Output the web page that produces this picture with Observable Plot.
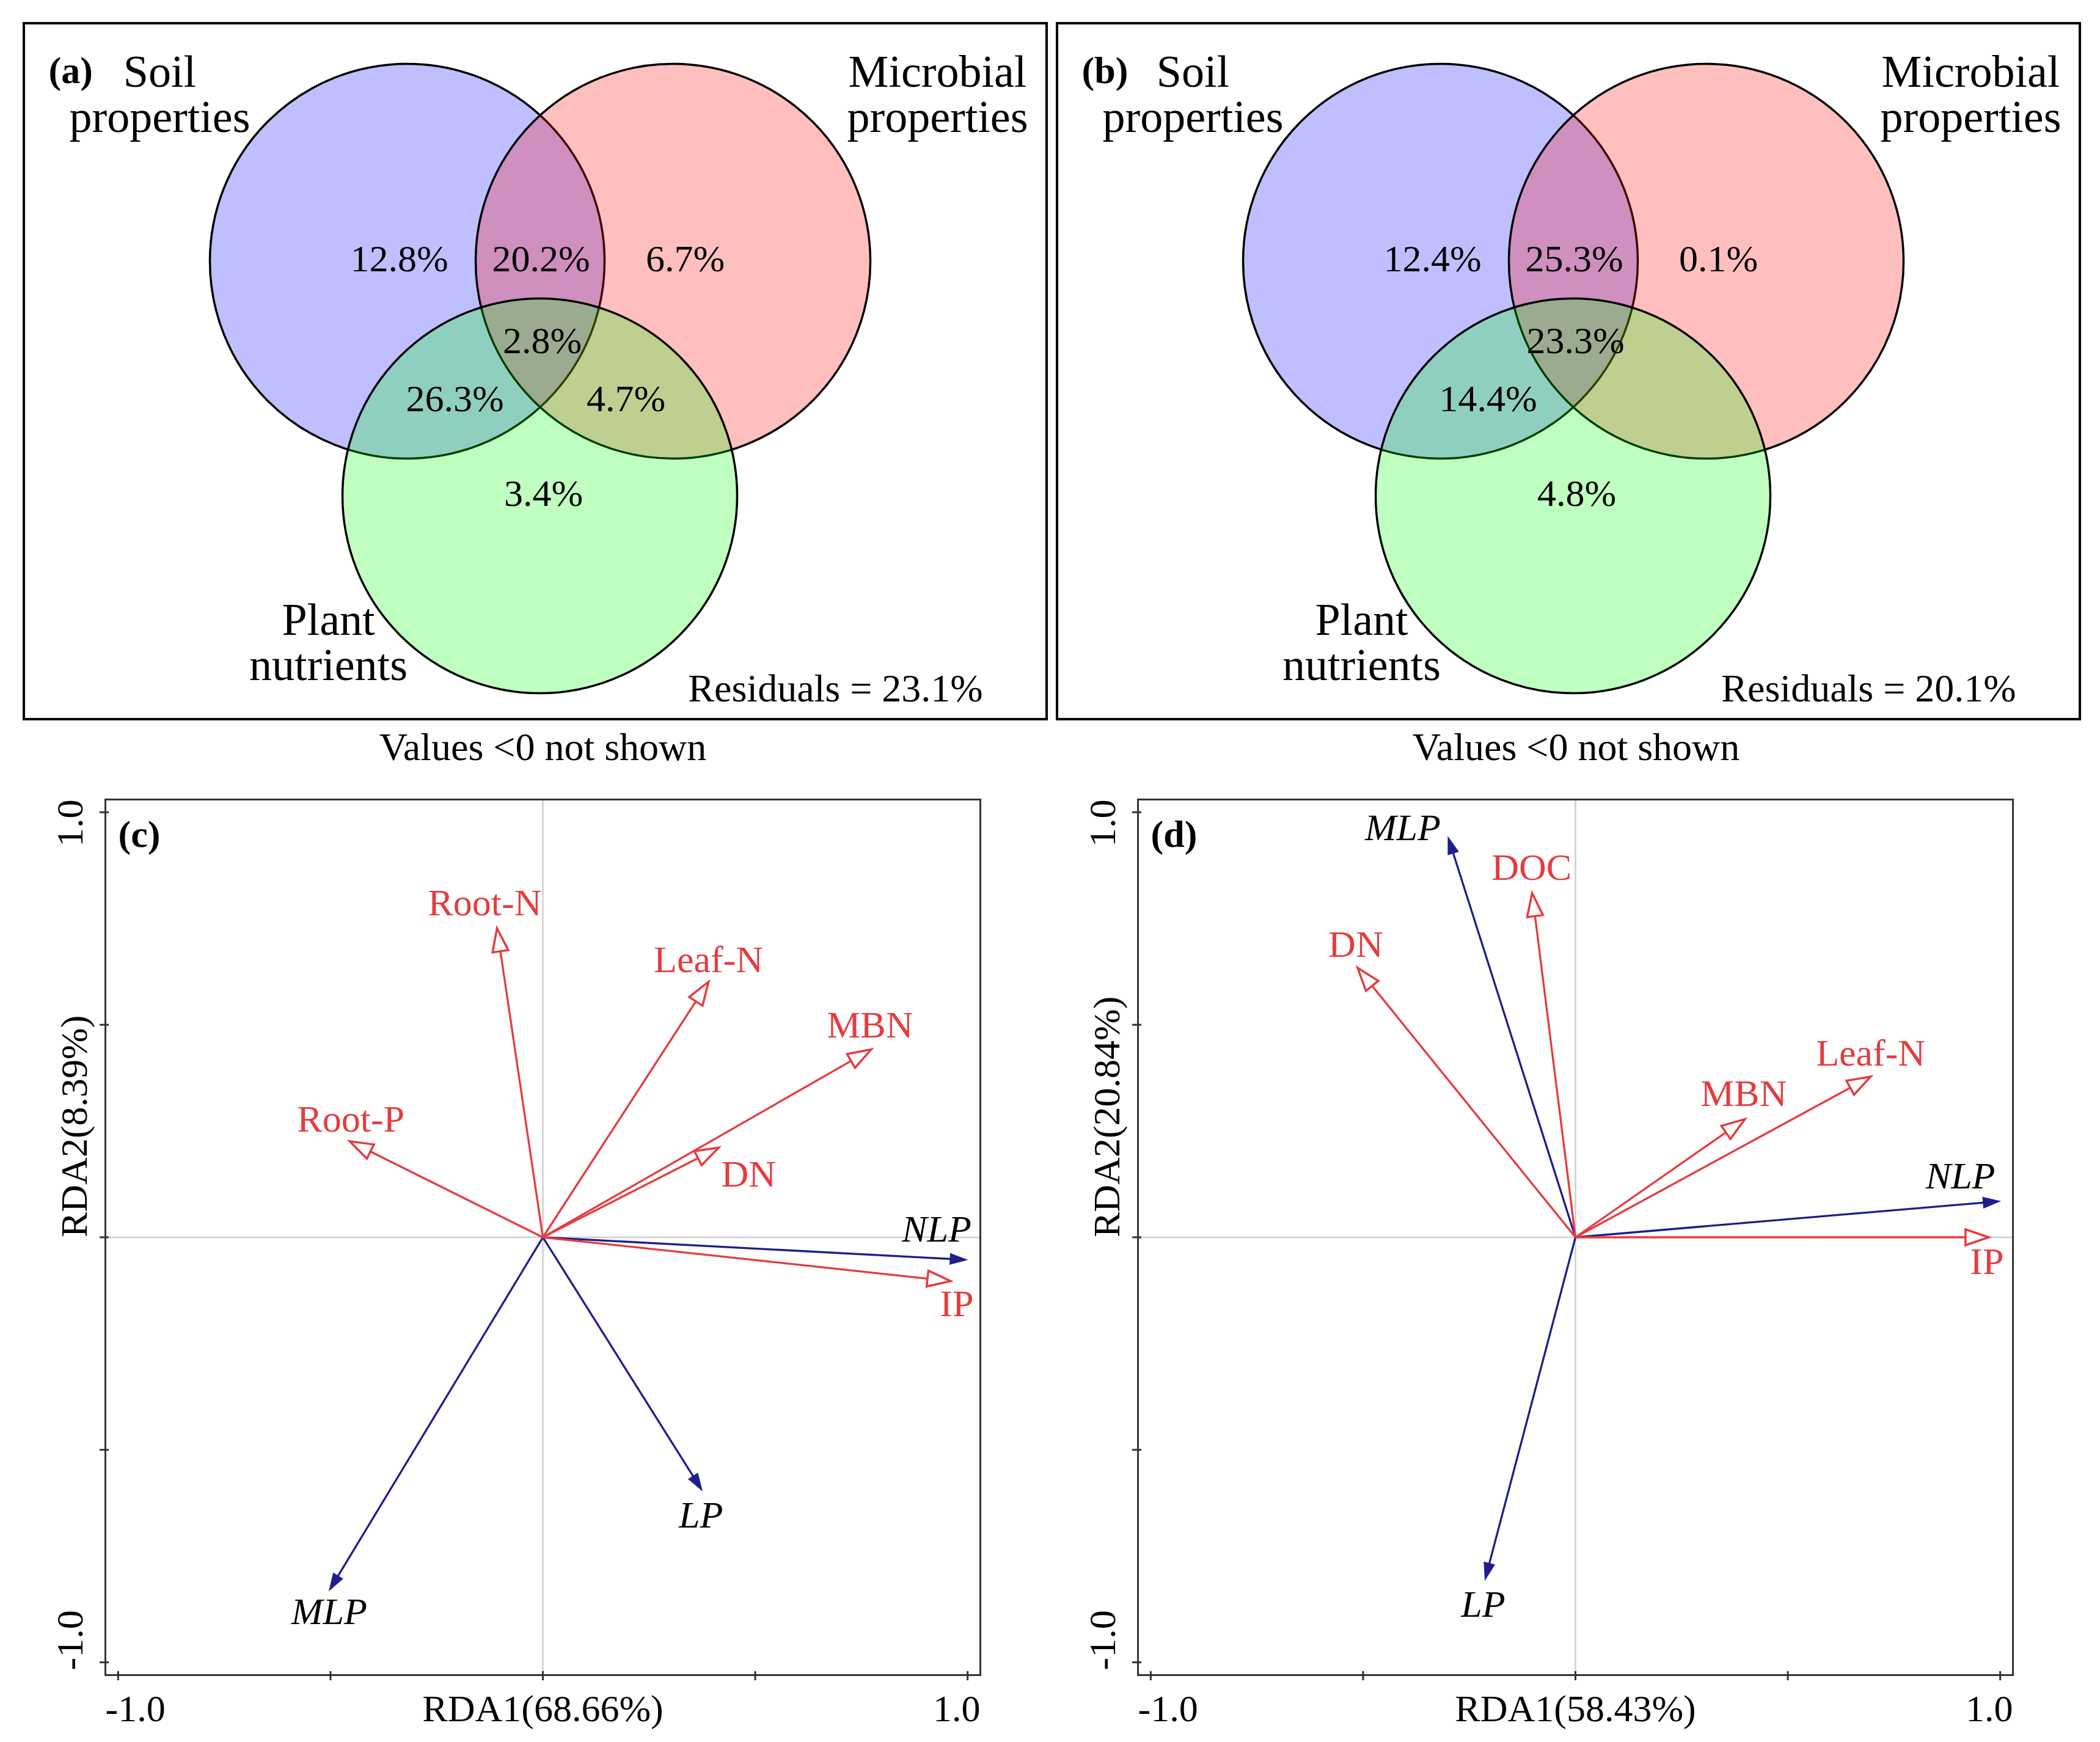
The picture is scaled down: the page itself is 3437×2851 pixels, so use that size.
<!DOCTYPE html>
<html>
<head>
<meta charset="utf-8">
<script src="https://cdn.jsdelivr.net/npm/d3@7"></script>
<script src="https://cdn.jsdelivr.net/npm/@observablehq/plot@0.6"></script>
<style>
  html, body { margin: 0; padding: 0; background: #ffffff; }
  #page { position: relative; width: 3437px; height: 2851px; background: #ffffff; overflow: hidden; }
  .panel { position: absolute; }
</style>
</head>
<body>
<div id="page"></div>
<script>
// ================= DATA =================
// Venn diagrams (variance partitioning)
const vennSetNames = ["Soil\nproperties", "Microbial\nproperties", "Plant\nnutrients"];
const vennRegions = ["Soil", "Microbial", "Plant", "Soil&Microbial", "Soil&Plant", "Microbial&Plant", "All"];
const vennValuesA = [12.8, 6.7, 3.4, 20.2, 26.3, 4.7, 2.8];
const vennValuesB = [12.4, 0.1, 4.8, 25.3, 14.4, null, 23.3]; // Microbial&Plant < 0, not shown
const vennResiduals = [23.1, 20.1];
const vennLetters = ["(a)", "(b)"];
const vennNote = "Values <0 not shown";

// RDA panel (c)
const rdaCExplNames = ["Root-N", "Leaf-N", "MBN", "Root-P", "DN", "IP"];
const rdaCExplX = [-0.108, 0.390, 0.773, -0.455, 0.414, 0.960];
const rdaCExplY = [0.727, 0.601, 0.442, 0.226, 0.211, -0.103];
const rdaCRespNames = ["NLP", "LP", "MLP"];
const rdaCRespX = [0.999, 0.375, -0.503];
const rdaCRespY = [-0.053, -0.596, -0.831];
const rdaCAxisTitles = ["RDA1(68.66%)", "RDA2(8.39%)"];

// RDA panel (d)
const rdaDExplNames = ["DOC", "DN", "Leaf-N", "MBN", "IP"];
const rdaDExplX = [-0.102, -0.513, 0.695, 0.399, 0.973];
const rdaDExplY = [0.810, 0.634, 0.378, 0.278, 0.000];
const rdaDRespNames = ["MLP", "NLP", "LP"];
const rdaDRespX = [-0.300, 1.000, -0.213];
const rdaDRespY = [0.942, 0.085, -0.806];
const rdaDAxisTitles = ["RDA1(58.43%)", "RDA2(20.84%)"];

const rdaTicks = [-1, -0.5, 0, 0.5, 1];
const rdaTickLabels = ["-1.0", "1.0"];

// ================= LAYOUT / STYLE =================
const FONT = '"Liberation Serif", "Times New Roman", Times, serif';
const RED = "#E63B3E";
const BLUE = "#1E1E8C";

const VW = 1720, VH = 1250, VR = 323;
const vennBox = {x1: 39, y1: 38, x2: 1713, y2: 1177};
const vennCircleCenters = [[666, 427], [1101, 427], [883, 811]];
const vennSetColors = ["#0000ff", "#ff0000", "#00ff00"];
const vennSetLabelPos = [[261, 155], [1534, 155], [537, 1052]];
const vennRegionPos = {
  "Soil": [653, 424], "Microbial": [1121, 424], "Plant": [889, 808],
  "Soil&Microbial": [885, 424], "Soil&Plant": [744, 653],
  "Microbial&Plant": [1024, 653], "All": [887, 558]
};

const nudgesC = {
  "Root-N": [-20, -41], "Leaf-N": [0, -36], "MBN": [-2, -39], "Root-P": [2, -36],
  "DN": [49, 44], "IP": [10, 38], "NLP": [-50, -50], "LP": [-2, 41], "MLP": [0, 35]
};
const nudgesD = {
  "DOC": [-1, -41], "DN": [-3, -38], "Leaf-N": [0, -38], "MBN": [-2, -41],
  "IP": [-3, 40], "MLP": [-74, -15], "NLP": [-65, -41], "LP": [-3, 40]
};

const page = document.getElementById("page");
function place(node, left, top) {
  const div = document.createElement("div");
  div.className = "panel";
  div.style.left = left + "px";
  div.style.top = top + "px";
  div.appendChild(node);
  page.appendChild(div);
}
const svgStyle = {fontFamily: FONT, background: "transparent", overflow: "visible", maxWidth: "none", color: "black"};

// ================= VENN =================
function venn(letter, values, residual) {
  const circles = vennSetNames.map((name, i) => ({
    name, cx: vennCircleCenters[i][0], cy: vennCircleCenters[i][1], color: vennSetColors[i],
    lx: vennSetLabelPos[i][0], ly: vennSetLabelPos[i][1]
  }));
  const regions = vennRegions
    .map((region, i) => ({region, value: values[i]}))
    .filter(d => d.value != null && d.value >= 0);
  return Plot.plot({
    width: VW, height: VH, margin: 0,
    x: {domain: [0, VW], range: [0, VW], axis: null},
    y: {domain: [0, VH], range: [0, VH], axis: null},
    color: {type: "identity"},
    style: svgStyle,
    marks: [
      Plot.dot(circles, {x: "cx", y: "cy", r: VR, fill: "color", fillOpacity: 0.25, stroke: "black", strokeWidth: 3.5}),
      Plot.text(regions, {
        x: d => vennRegionPos[d.region][0], y: d => vennRegionPos[d.region][1],
        text: d => d.value.toFixed(1) + "%", fontSize: 62, fill: "black"
      }),
      Plot.text(circles, {x: "lx", y: "ly", text: "name", fontSize: 74, lineHeight: 1, fill: "black"}),
      Plot.text([letter], {x: 79, y: 116, textAnchor: "start", fontWeight: "bold", fontSize: 62, fill: "black"}),
      Plot.text([residual], {x: 1367, y: 1127, text: d => `Residuals = ${d.toFixed(1)}%`, fontSize: 64, fill: "black"}),
      Plot.text([vennNote], {x: 888, y: 1223, fontSize: 64, fill: "black"}),
      Plot.rect([vennBox], {x1: "x1", y1: "y1", x2: "x2", y2: "y2", fill: "none", stroke: "black", strokeWidth: 4})
    ]
  });
}

// ================= RDA =================
function headSymbol(L, W) {
  return {draw(ctx) { ctx.moveTo(0, 0); ctx.lineTo(-L, -W / 2); ctx.lineTo(-L, W / 2); ctx.closePath(); }};
}
const redHead = headSymbol(38, 26);
const blueHead = headSymbol(28, 18);

function rda(letter, explNames, explX, explY, respNames, respX, respY, titles, nudges) {
  const D = [-1.03, 1.03];
  const W = 1690, H = 1601, mL = 172, mR = 86, mT = 58, mB = 110;
  const kx = (W - mL - mR) / (D[1] - D[0]);
  const ky = (H - mT - mB) / (D[1] - D[0]);
  const prep = (names, xs, ys, L) => names.map((name, i) => {
    const x = xs[i], y = ys[i];
    const len = Math.hypot(x * kx, y * ky);
    const f = Math.max(0, 1 - L / len);
    return {name, x, y, sx: x * f, sy: y * f, angle: Math.atan2(-y * ky, x * kx) * 180 / Math.PI};
  });
  const expl = prep(explNames, explX, explY, 36);
  const resp = prep(respNames, respX, respY, 14);
  const labels = [
    ...expl.map(d => Plot.text([d], {x: "x", y: "y", text: "name", dx: nudges[d.name][0], dy: nudges[d.name][1], fill: RED, fontSize: 62})),
    ...resp.map(d => Plot.text([d], {x: "x", y: "y", text: "name", dx: nudges[d.name][0], dy: nudges[d.name][1], fill: "black", fontStyle: "italic", fontSize: 62}))
  ];
  const T = {fontSize: 62, fill: "black", lineAnchor: "middle"};
  return Plot.plot({
    width: W, height: H,
    marginLeft: mL, marginRight: mR, marginTop: mT, marginBottom: mB,
    x: {domain: D},
    y: {domain: D},
    style: svgStyle,
    marks: [
      Plot.ruleX([0], {stroke: "#cfcfcf", strokeWidth: 2.5}),
      Plot.ruleY([0], {stroke: "#cfcfcf", strokeWidth: 2.5}),
      Plot.link(resp, {x1: 0, y1: 0, x2: "sx", y2: "sy", stroke: BLUE, strokeWidth: 3.3}),
      Plot.link(expl, {x1: 0, y1: 0, x2: "sx", y2: "sy", stroke: RED, strokeWidth: 3.3}),
      Plot.dot(resp, {x: "x", y: "y", symbol: blueHead, rotate: "angle", fill: BLUE, stroke: BLUE, strokeWidth: 1}),
      Plot.dot(expl, {x: "x", y: "y", symbol: redHead, rotate: "angle", fill: "white", stroke: RED, strokeWidth: 3.5, strokeLinejoin: "miter"}),
      ...labels,
      Plot.frame({stroke: "#333", strokeWidth: 3}),
      Plot.axisX({anchor: "bottom", ticks: rdaTicks, tickSize: 15, dy: -6, tickFormat: () => "", label: null, stroke: "#333", strokeWidth: 3}),
      Plot.axisY({anchor: "left", ticks: rdaTicks, tickSize: 15, dx: 6, tickFormat: () => "", label: null, stroke: "#333", strokeWidth: 3}),
      Plot.text([rdaTickLabels[0]], {...T, frameAnchor: "bottom-left", textAnchor: "start", dy: 56}),
      Plot.text([rdaTickLabels[1]], {...T, frameAnchor: "bottom-right", textAnchor: "end", dy: 56}),
      Plot.text([rdaTickLabels[1]], {...T, frameAnchor: "top-left", textAnchor: "end", rotate: -90, dx: -57}),
      Plot.text([rdaTickLabels[0]], {...T, frameAnchor: "bottom-left", textAnchor: "start", rotate: -90, dx: -57, dy: -8}),
      Plot.text([titles[0]], {...T, frameAnchor: "bottom", dy: 56}),
      Plot.text([titles[1]], {...T, frameAnchor: "left", rotate: -90, dx: -50}),
      Plot.text([letter], {...T, frameAnchor: "top-left", textAnchor: "start", dx: 21, dy: 58, fontWeight: "bold"})
    ]
  });
}

place(venn(vennLetters[0], vennValuesA, vennResiduals[0]), 0, 0);
place(venn(vennLetters[1], vennValuesB, vennResiduals[1]), 1691, 0);
place(rda("(c)", rdaCExplNames, rdaCExplX, rdaCExplY, rdaCRespNames, rdaCRespX, rdaCRespY, rdaCAxisTitles, nudgesC), 0, 1250);
place(rda("(d)", rdaDExplNames, rdaDExplX, rdaDExplY, rdaDRespNames, rdaDRespX, rdaDRespY, rdaDAxisTitles, nudgesD), 1690, 1250);
</script>
</body>
</html>
